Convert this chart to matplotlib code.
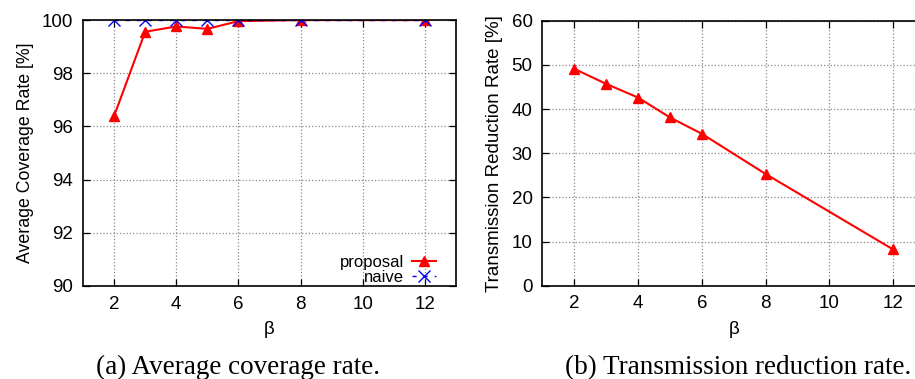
import matplotlib
matplotlib.use('Agg')
import matplotlib.pyplot as plt

# Data
beta = [2, 3, 4, 5, 6, 8, 12]
coverage_proposal = [96.39, 99.56, 99.76, 99.67, 99.96, 100.0, 100.0]
coverage_naive = [100, 100, 100, 100, 100, 100, 100]
reduction_rate = [49.1, 45.7, 42.6, 38.1, 34.4, 25.3, 8.2]
x_ticks = [2, 4, 6, 8, 10, 12]

plt.rcParams['font.family'] = ['Liberation Sans', 'DejaVu Sans']
TICK_FS = 13.5


def style_axes(ax):
    ax.set_xlim(1, 13)
    ax.set_xticks(x_ticks)
    ax.grid(True, color='#888888', linestyle=':', linewidth=0.9)
    ax.tick_params(direction='in', top=True, right=True, labelsize=TICK_FS,
                   length=5, width=0.9, pad=7)
    for sp in ax.spines.values():
        sp.set_linewidth(1.2)
    ax.set_xlabel('β', fontsize=TICK_FS, labelpad=6)


fig = plt.figure(figsize=(9.15, 3.79), dpi=100)

# (a) coverage rate
ax1 = fig.add_axes([0.0907, 0.2454, 0.4077, 0.7016])
ax1.plot(beta, coverage_proposal, color='red', marker='^', markersize=7,
         linewidth=1.5, label='proposal')
ax1.plot(beta, coverage_naive, color='blue', marker='x', markersize=8,
         linewidth=1.0, linestyle=(0, (3, 5)), label='naive')
ax1.set_ylim(90, 100)
ax1.set_yticks([90, 92, 94, 96, 98, 100])
style_axes(ax1)
ax1.set_ylabel('Average Coverage Rate [%]', fontsize=12.8, labelpad=6)
leg = ax1.legend(loc='lower right', bbox_to_anchor=(0.965, -0.02),
                 markerfirst=False, frameon=False, fontsize=12,
                 handlelength=1.45, handletextpad=0.5, labelspacing=0.0,
                 borderaxespad=0.0)
for t in leg.get_texts():
    t.set_horizontalalignment('right')
leg._legend_box.align = 'right'

# (b) transmission reduction rate
ax2 = fig.add_axes([0.5927, 0.2462, 0.4183, 0.6992])
ax2.plot(beta, reduction_rate, color='red', marker='^', markersize=7,
         linewidth=1.5)
ax2.set_ylim(0, 60)
ax2.set_yticks([0, 10, 20, 30, 40, 50, 60])
style_axes(ax2)
ax2.set_ylabel('Transmission Reduction Rate [%]', fontsize=TICK_FS, labelpad=6)

# captions
fig.text(0.2596, 0.013, '(a) Average coverage rate.', ha='center',
         va='baseline', fontsize=19.5, family='Liberation Serif')
fig.text(0.8066, 0.013, '(b) Transmission reduction rate.', ha='center',
         va='baseline', fontsize=19.5, family='Liberation Serif')

fig.savefig('out.png', dpi=100)
